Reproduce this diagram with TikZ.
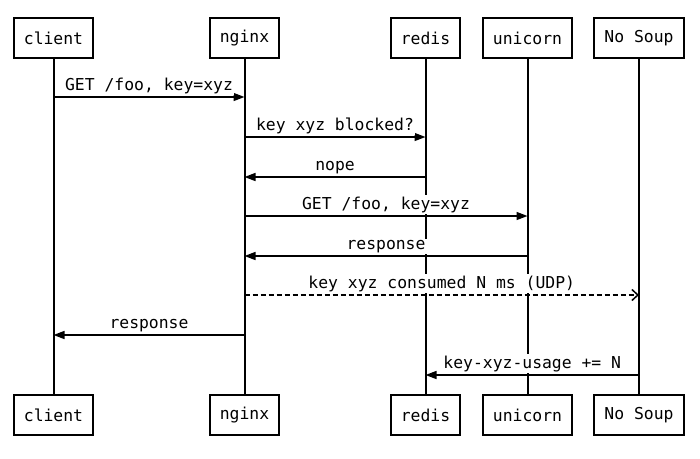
\documentclass[tikz,border=0pt]{standalone}
\usepackage{fontspec}
\setmonofont{DejaVu Sans Mono}
\usetikzlibrary{arrows.meta,positioning}

\begin{document}
\begin{tikzpicture}[x=1pt,y=-1pt,>={Triangle[length=11pt,width=8pt]},
  actor/.style={draw,fill=white,line width=2pt,minimum height=40pt,inner xsep=10pt,
    font=\ttfamily\fontsize{16.4}{20}\selectfont},
  life/.style={line width=2pt},
  msg/.style={line width=1.5pt},
  lbl/.style={above=1pt,fill=white,inner sep=1.5pt,font=\ttfamily\fontsize{16.4}{20}\selectfont},
  udp/.style={msg,dash pattern=on 5pt off 3pt,-{Straight Barb[length=6pt,width=11pt]}}]

\useasboundingbox (0,0) rectangle (700,458);

% participants, top row
\node[actor] (client) at (53.5,38) {client};
 \node[actor] (nginx) [right of=client,node distance=191pt] {nginx};
	\node[actor] (redis) [right of=nginx,node distance=181pt] {redis};
	\node[actor] (unicorn) [right of=redis,node distance=102pt] {unicorn};
	\node[actor] (nosoup) [right of=unicorn,node distance=111.5pt] {No Soup};

% participants, bottom row
\node[actor] (client-b) [below of=client,node distance=377pt] {client};
\node[actor] (nginx-b) [below of=nginx,node distance=377pt] {nginx};
\node[actor] (redis-b) [below of=redis,node distance=377pt] {redis};
\node[actor] (unicorn-b) [below of=unicorn,node distance=377pt] {unicorn};
\node[actor] (nosoup-b) [below of=nosoup,node distance=377pt] {No Soup};

\foreach \p in {client,nginx,redis,unicorn,nosoup}
	\draw[life] (\p) -- (\p-b);

% message rows
\coordinate (m1) at (0,97);
\coordinate (m2) at (0,137);
\coordinate (m3) at (0,177);
\coordinate (m4) at (0,216);
\coordinate (m5) at (0,256);
\coordinate (m6) at (0,295);
\coordinate (m7) at (0,335);
\coordinate (m8) at (0,375);

	\path[->,msg] (client |- m1) edge node[lbl]{GET /foo, key=xyz} (nginx |- m1)
		(nginx |- m2) edge node[lbl]{key xyz blocked?} (redis |- m2)
		(redis |- m3) edge node[lbl]{nope} (nginx |- m3)
		(nginx |- m4) edge node[lbl]{GET /foo, key=xyz} (unicorn |- m4)
		(unicorn |- m5) edge node[lbl]{response} (nginx |- m5)
		(nginx |- m6) edge[udp] node[lbl]{key xyz consumed N ms (UDP)} (nosoup |- m6)
		(nginx |- m7) edge node[lbl]{response} (client |- m7)
		(nosoup |- m8) edge node[lbl]{key-xyz-usage += N} (redis |- m8);

\end{tikzpicture}
\end{document}
